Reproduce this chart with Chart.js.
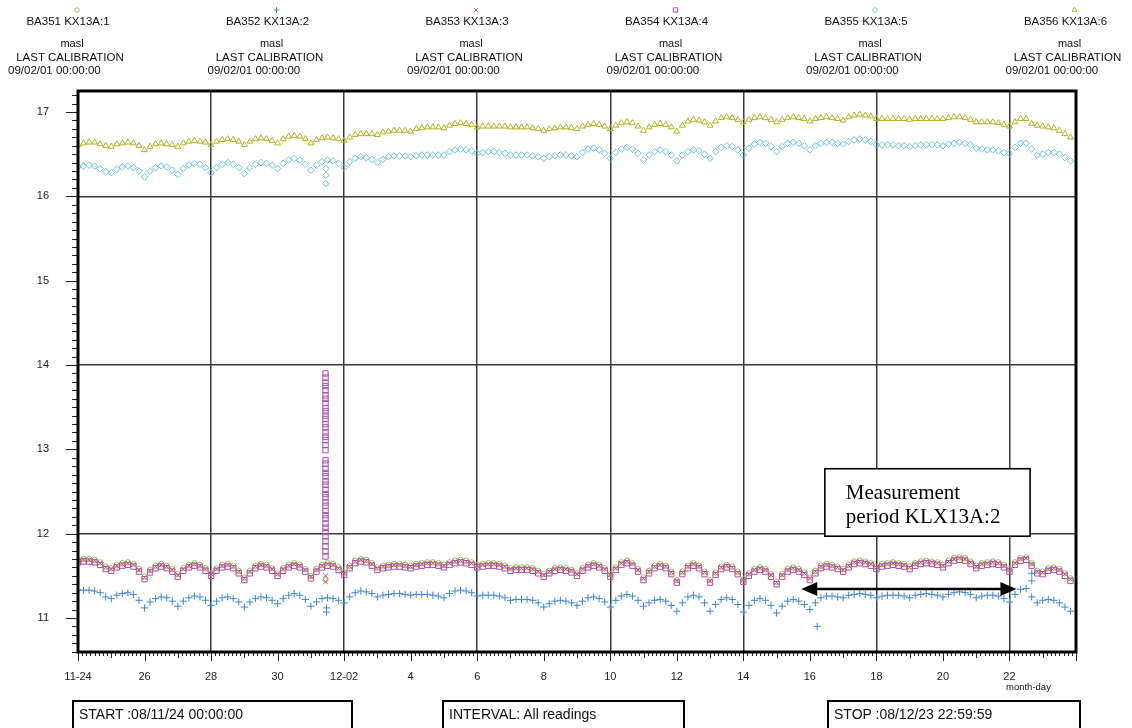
<!DOCTYPE html>
<html>
<head>
<meta charset="utf-8">
<title>KX13A levels</title>
<script src="https://cdn.jsdelivr.net/npm/chart.js@4.4.1/dist/chart.umd.min.js"></script>
<style>
  html, body { margin: 0; padding: 0; background: #fff; }
  body { position: relative; width: 1132px; height: 728px; overflow: hidden; font-family: 'Liberation Sans', Arial, sans-serif; color: #111; }
  #plot { position: absolute; left: 0; top: 0; }
  .col { position: absolute; top: 0; width: 200px; height: 80px; font-size: 11.5px; }
  .col div { position: absolute; white-space: nowrap; line-height: 12px; }
  .box { position: absolute; top: 700px; height: 31px; box-sizing: border-box; border: 2.5px solid #000; font-size: 14px; line-height: 24px; padding-left: 5px; white-space: nowrap; }
  #md { position: absolute; left: 1006px; top: 681px; font-size: 9.5px; font-family: 'Liberation Sans Narrow', 'Liberation Sans', Arial, sans-serif; }
</style>
</head>
<body>
<canvas id="plot" width="1132" height="728"></canvas>
<div id="head"></div>
<div class="box" style="left:72px;width:281px">START :08/11/24 00:00:00</div>
<div class="box" style="left:442px;width:243px">INTERVAL: All readings</div>
<div class="box" style="left:827px;width:254px">STOP :08/12/23 22:59:59</div>
<div id="md">month-day</div>
<script>
// sensors in the order of the header columns
const sensorNames = ['BA351 KX13A:1', 'BA352 KX13A:2', 'BA353 KX13A:3', 'BA354 KX13A:4', 'BA355 KX13A:5', 'BA356 KX13A:6'];
const sensorColors = ['#86cc55', '#3f86d6', '#e4484c', '#ad4fb0', '#6ac4d8', '#b3b324'];
const sensorMarks = ['circle', 'cross', 'crossRot', 'rect', 'rectRot', 'triangle'];
const unitLabel = 'masl';
const calibration = '09/02/01 00:00:00';

// readings every 4 hours from 08/11/24 00:00 (six per day), masl
const level1 = [
  11.69, 11.70, 11.70, 11.69, 11.66, 11.61,  11.59, 11.63, 11.65, 11.66, 11.64, 11.58,  11.49, 11.57, 11.62, 11.64, 11.62, 11.58,
  11.52, 11.59, 11.63, 11.65, 11.63, 11.59,  11.53, 11.59, 11.63, 11.64, 11.62, 11.56,  11.48, 11.56, 11.62, 11.64, 11.63, 11.59,
  11.53, 11.59, 11.63, 11.65, 11.63, 11.58,  11.50, 11.58, 11.63, 11.65, 11.64, 11.60,  11.54, 11.62, 11.68, 11.70, 11.69, 11.65,
  11.60, 11.62, 11.63, 11.64, 11.64, 11.63,  11.62, 11.64, 11.65, 11.66, 11.66, 11.65,  11.63, 11.66, 11.68, 11.69, 11.68, 11.66,
  11.63, 11.64, 11.65, 11.65, 11.64, 11.62,  11.59, 11.60, 11.60, 11.60, 11.59, 11.56,  11.52, 11.56, 11.59, 11.60, 11.59, 11.57,
  11.53, 11.59, 11.63, 11.65, 11.63, 11.59,  11.52, 11.60, 11.66, 11.68, 11.65, 11.58,  11.48, 11.56, 11.62, 11.64, 11.62, 11.55,
  11.45, 11.55, 11.62, 11.65, 11.62, 11.55,  11.45, 11.54, 11.61, 11.63, 11.61, 11.55,  11.46, 11.53, 11.58, 11.60, 11.58, 11.52,
  11.43, 11.52, 11.58, 11.60, 11.58, 11.54,  11.48, 11.56, 11.62, 11.64, 11.63, 11.61,  11.58, 11.63, 11.67, 11.68, 11.67, 11.65,
  11.61, 11.64, 11.65, 11.66, 11.65, 11.64,  11.61, 11.65, 11.67, 11.68, 11.67, 11.66,  11.63, 11.68, 11.71, 11.72, 11.71, 11.67,
  11.62, 11.65, 11.66, 11.67, 11.66, 11.63,  11.58, 11.66, 11.71, 11.72, 11.65, 11.56,  11.55, 11.59, 11.60, 11.58, 11.53, 11.47
];
const level2 = [
  11.33, 11.33, 11.33, 11.32, 11.30, 11.25,  11.23, 11.27, 11.29, 11.30, 11.28, 11.21,  11.12, 11.19, 11.23, 11.25, 11.24, 11.20,
  11.14, 11.20, 11.24, 11.26, 11.25, 11.21,  11.15, 11.20, 11.24, 11.25, 11.23, 11.19,  11.13, 11.19, 11.23, 11.25, 11.24, 11.21,
  11.17, 11.23, 11.27, 11.29, 11.27, 11.22,  11.14, 11.19, 11.23, 11.24, 11.23, 11.21,  11.18, 11.25, 11.30, 11.32, 11.31, 11.29,
  11.25, 11.27, 11.28, 11.29, 11.29, 11.28,  11.27, 11.28, 11.28, 11.28, 11.27, 11.26,  11.24, 11.29, 11.32, 11.33, 11.32, 11.30,
  11.26, 11.27, 11.27, 11.27, 11.26, 11.24,  11.21, 11.22, 11.22, 11.22, 11.21, 11.18,  11.13, 11.17, 11.20, 11.21, 11.20, 11.18,
  11.15, 11.20, 11.24, 11.25, 11.23, 11.19,  11.13, 11.21, 11.26, 11.28, 11.26, 11.21,  11.14, 11.18, 11.21, 11.22, 11.20, 11.15,
  11.08, 11.18, 11.25, 11.27, 11.25, 11.18,  11.08, 11.16, 11.22, 11.24, 11.22, 11.16,  11.07, 11.15, 11.21, 11.23, 11.21, 11.15,
  11.06, 11.14, 11.20, 11.22, 11.20, 11.16,  11.10, 11.18, 11.24, 11.26, 11.26, 11.25,  11.24, 11.27, 11.28, 11.29, 11.28, 11.27,
  11.24, 11.26, 11.27, 11.27, 11.27, 11.26,  11.24, 11.27, 11.28, 11.29, 11.28, 11.27,  11.25, 11.28, 11.30, 11.31, 11.30, 11.28,
  11.24, 11.26, 11.27, 11.27, 11.26, 11.23,  11.19, 11.28, 11.34, 11.35, 11.25, 11.18,  11.21, 11.22, 11.21, 11.18, 11.13, 11.08
];
const level3 = [
  11.68, 11.69, 11.69, 11.68, 11.65, 11.60,  11.58, 11.62, 11.64, 11.65, 11.63, 11.57,  11.48, 11.56, 11.61, 11.63, 11.61, 11.57,
  11.51, 11.58, 11.62, 11.64, 11.62, 11.58,  11.52, 11.58, 11.62, 11.63, 11.61, 11.55,  11.47, 11.55, 11.61, 11.63, 11.62, 11.58,
  11.52, 11.58, 11.62, 11.64, 11.62, 11.57,  11.49, 11.57, 11.62, 11.64, 11.63, 11.59,  11.53, 11.61, 11.67, 11.69, 11.68, 11.64,
  11.59, 11.61, 11.62, 11.63, 11.63, 11.62,  11.61, 11.63, 11.64, 11.65, 11.65, 11.64,  11.62, 11.65, 11.67, 11.68, 11.67, 11.65,
  11.62, 11.63, 11.64, 11.64, 11.63, 11.61,  11.58, 11.59, 11.59, 11.59, 11.58, 11.55,  11.51, 11.55, 11.58, 11.59, 11.58, 11.56,
  11.52, 11.58, 11.62, 11.64, 11.62, 11.58,  11.51, 11.59, 11.65, 11.67, 11.64, 11.57,  11.47, 11.55, 11.61, 11.63, 11.61, 11.54,
  11.44, 11.54, 11.61, 11.64, 11.61, 11.54,  11.44, 11.53, 11.60, 11.62, 11.60, 11.54,  11.45, 11.52, 11.57, 11.59, 11.57, 11.51,
  11.42, 11.51, 11.57, 11.59, 11.57, 11.53,  11.47, 11.55, 11.61, 11.63, 11.62, 11.60,  11.57, 11.62, 11.66, 11.67, 11.66, 11.64,
  11.60, 11.63, 11.64, 11.65, 11.64, 11.63,  11.60, 11.64, 11.66, 11.67, 11.66, 11.65,  11.62, 11.67, 11.70, 11.71, 11.70, 11.66,
  11.61, 11.64, 11.65, 11.66, 11.65, 11.62,  11.57, 11.65, 11.70, 11.71, 11.64, 11.55,  11.54, 11.58, 11.59, 11.57, 11.52, 11.46
];
const level4 = [
  11.66, 11.67, 11.67, 11.66, 11.63, 11.58,  11.56, 11.60, 11.62, 11.63, 11.61, 11.55,  11.46, 11.54, 11.59, 11.61, 11.59, 11.55,
  11.49, 11.56, 11.60, 11.62, 11.60, 11.56,  11.50, 11.56, 11.60, 11.61, 11.59, 11.53,  11.45, 11.53, 11.59, 11.61, 11.60, 11.56,
  11.50, 11.56, 11.60, 11.62, 11.60, 11.55,  11.47, 11.55, 11.60, 11.62, 11.61, 11.57,  11.51, 11.59, 11.65, 11.67, 11.66, 11.62,
  11.57, 11.59, 11.60, 11.61, 11.61, 11.60,  11.59, 11.61, 11.62, 11.63, 11.63, 11.62,  11.60, 11.63, 11.65, 11.66, 11.65, 11.63,
  11.60, 11.61, 11.62, 11.62, 11.61, 11.59,  11.56, 11.57, 11.57, 11.57, 11.56, 11.53,  11.49, 11.53, 11.56, 11.57, 11.56, 11.54,
  11.50, 11.56, 11.60, 11.62, 11.60, 11.56,  11.49, 11.57, 11.63, 11.65, 11.62, 11.55,  11.45, 11.53, 11.59, 11.61, 11.59, 11.52,
  11.42, 11.52, 11.59, 11.62, 11.59, 11.52,  11.42, 11.51, 11.58, 11.60, 11.58, 11.52,  11.43, 11.50, 11.55, 11.57, 11.55, 11.49,
  11.40, 11.49, 11.55, 11.57, 11.55, 11.51,  11.45, 11.53, 11.59, 11.61, 11.60, 11.58,  11.55, 11.60, 11.64, 11.65, 11.64, 11.62,
  11.58, 11.61, 11.62, 11.63, 11.62, 11.61,  11.58, 11.62, 11.64, 11.65, 11.64, 11.63,  11.60, 11.65, 11.68, 11.69, 11.68, 11.64,
  11.59, 11.62, 11.63, 11.64, 11.63, 11.60,  11.55, 11.63, 11.68, 11.69, 11.62, 11.53,  11.52, 11.56, 11.57, 11.55, 11.50, 11.44
];
const level5 = [
  16.35, 16.36, 16.37, 16.36, 16.33, 16.29,  16.28, 16.32, 16.35, 16.36, 16.34, 16.30,  16.23, 16.30, 16.34, 16.36, 16.35, 16.31,
  16.26, 16.33, 16.37, 16.39, 16.38, 16.34,  16.28, 16.34, 16.38, 16.40, 16.38, 16.34,  16.27, 16.34, 16.38, 16.40, 16.39, 16.37,
  16.33, 16.39, 16.43, 16.45, 16.43, 16.38,  16.31, 16.37, 16.41, 16.43, 16.42, 16.39,  16.34, 16.41, 16.45, 16.47, 16.46, 16.44,
  16.40, 16.44, 16.47, 16.48, 16.48, 16.48,  16.47, 16.48, 16.49, 16.49, 16.49, 16.49,  16.49, 16.53, 16.55, 16.56, 16.55, 16.54,
  16.51, 16.52, 16.53, 16.53, 16.52, 16.51,  16.49, 16.49, 16.49, 16.49, 16.48, 16.47,  16.45, 16.47, 16.48, 16.49, 16.49, 16.48,
  16.47, 16.52, 16.56, 16.57, 16.55, 16.51,  16.45, 16.52, 16.56, 16.58, 16.56, 16.51,  16.43, 16.49, 16.53, 16.55, 16.53, 16.49,
  16.42, 16.49, 16.53, 16.55, 16.54, 16.50,  16.45, 16.53, 16.58, 16.60, 16.59, 16.55,  16.49, 16.57, 16.62, 16.64, 16.63, 16.59,
  16.53, 16.59, 16.63, 16.64, 16.63, 16.60,  16.55, 16.60, 16.63, 16.64, 16.64, 16.63,  16.62, 16.65, 16.67, 16.68, 16.67, 16.65,
  16.61, 16.61, 16.61, 16.61, 16.60, 16.60,  16.59, 16.60, 16.61, 16.61, 16.61, 16.61,  16.60, 16.62, 16.63, 16.64, 16.63, 16.61,
  16.57, 16.56, 16.55, 16.55, 16.54, 16.52,  16.51, 16.58, 16.63, 16.63, 16.56, 16.49,  16.50, 16.52, 16.52, 16.50, 16.46, 16.42
];
const level6 = [
  16.61, 16.63, 16.64, 16.64, 16.62, 16.60,  16.59, 16.62, 16.63, 16.64, 16.63, 16.60,  16.55, 16.59, 16.62, 16.63, 16.62, 16.61,
  16.59, 16.63, 16.65, 16.66, 16.65, 16.64,  16.61, 16.65, 16.67, 16.68, 16.67, 16.65,  16.61, 16.65, 16.68, 16.69, 16.68, 16.66,
  16.63, 16.68, 16.71, 16.72, 16.71, 16.68,  16.63, 16.67, 16.69, 16.70, 16.69, 16.68,  16.66, 16.70, 16.73, 16.74, 16.74, 16.74,
  16.73, 16.76, 16.77, 16.78, 16.78, 16.78,  16.77, 16.80, 16.81, 16.82, 16.82, 16.82,  16.81, 16.84, 16.86, 16.87, 16.86, 16.85,
  16.82, 16.83, 16.83, 16.83, 16.83, 16.83,  16.82, 16.82, 16.82, 16.82, 16.81, 16.80,  16.78, 16.80, 16.81, 16.82, 16.82, 16.81,
  16.80, 16.83, 16.85, 16.86, 16.85, 16.83,  16.80, 16.84, 16.87, 16.88, 16.87, 16.83,  16.78, 16.82, 16.85, 16.86, 16.85, 16.82,
  16.77, 16.84, 16.89, 16.91, 16.90, 16.88,  16.84, 16.89, 16.93, 16.94, 16.93, 16.91,  16.88, 16.91, 16.93, 16.94, 16.93, 16.91,
  16.88, 16.91, 16.93, 16.94, 16.93, 16.92,  16.89, 16.92, 16.93, 16.94, 16.93, 16.92,  16.90, 16.94, 16.96, 16.97, 16.96, 16.95,
  16.92, 16.92, 16.92, 16.92, 16.92, 16.92,  16.91, 16.92, 16.92, 16.92, 16.92, 16.92,  16.92, 16.93, 16.94, 16.94, 16.93, 16.91,
  16.88, 16.88, 16.88, 16.88, 16.87, 16.85,  16.83, 16.88, 16.92, 16.92, 16.86, 16.84,  16.83, 16.82, 16.81, 16.78, 16.74, 16.70
];

// burst of BA354 readings around 12-01 10:30, and the odd stray readings [day, masl]
const spikeDay = 7.44;
const spike4 = [13.90, 13.85, 13.79, 13.75, 13.70, 13.64, 13.60, 13.55, 13.49, 13.45, 13.40, 13.36, 13.30, 13.26, 13.20,
  13.15, 13.11, 13.05, 12.99, 12.87, 12.83, 12.77, 12.72, 12.68, 12.62, 12.58, 12.52, 12.47, 12.43, 12.37, 12.33,
  12.27, 12.22, 12.18, 12.12, 12.07, 12.02, 11.97, 11.91, 11.85, 11.79, 11.73];
const stray1 = [[7.44, 11.46]];
const stray2 = [[7.47, 11.12], [7.47, 11.07], [22.22, 10.90], [28.67, 11.53], [28.67, 11.44]];
const stray3 = [[7.44, 11.50], [7.44, 11.43]];
const stray5 = [[7.45, 16.33], [7.45, 16.25], [7.45, 16.15]];

// x tick labels, every second day
const dayTicks = [0, 2, 4, 6, 8, 10, 12, 14, 16, 18, 20, 22, 24, 26, 28];
const dayLabels = ['11-24', '26', '28', '30', '12-02', '4', '6', '8', '10', '12', '14', '16', '18', '20', '22'];

// measurement period marked below the note
const periodFrom = 21.74;
const periodTo = 28.21;
const periodLevel = 11.345;
const noteBox = { x0: 22.45, x1: 28.62, y0: 12.77, y1: 11.97 };
const noteLines = ['Measurement', 'period KLX13A:2'];

const times = level4.map((_, i) => i / 6);

function series(vals, extra) {
  return vals.map((v, i) => ({ x: times[i], y: v })).concat(extra.map(([x, y]) => ({ x, y })));
}

// header columns
const head = document.getElementById('head');
const colCenters = sensorNames.map((_, i) => 68 + i * 199.5);
sensorNames.forEach((name, i) => {
  const c = document.createElement('div');
  c.className = 'col';
  c.style.left = (colCenters[i] - 100) + 'px';
  c.innerHTML =
    '<div style="top:15px;left:0;width:200px;text-align:center">' + name + '</div>' +
    '<div style="top:37px;left:4px;width:200px;text-align:center;font-size:11px">' + unitLabel + '</div>' +
    '<div style="top:51px;left:2px;width:200px;text-align:center">LAST CALIBRATION</div>' +
    '<div style="top:64px;left:40px">' + calibration + '</div>';
  head.appendChild(c);
});

const markSize = { circle: 2.7, cross: 3.6, crossRot: 3.2, rect: 3.8, rectRot: 3.3, triangle: 3.4 };

const frame = {
  id: 'frame',
  afterDraw(chart) {
    const { ctx, chartArea: a, scales: { x, y } } = chart;
    ctx.save();

    // note box and the double arrow
    const bx0 = x.getPixelForValue(noteBox.x0), bx1 = x.getPixelForValue(noteBox.x1);
    const by0 = y.getPixelForValue(noteBox.y0), by1 = y.getPixelForValue(noteBox.y1);
    ctx.fillStyle = '#fff';
    ctx.fillRect(bx0, by0, bx1 - bx0, by1 - by0);
    ctx.strokeStyle = '#000';
    ctx.lineWidth = 1.6;
    ctx.strokeRect(bx0, by0, bx1 - bx0, by1 - by0);
    ctx.fillStyle = '#000';
    ctx.font = '21px "Liberation Serif", "Times New Roman", serif';
    ctx.textBaseline = 'alphabetic';
    ctx.textAlign = 'left';
    noteLines.forEach((t, i) => ctx.fillText(t, bx0 + 21, by0 + 30 + i * 24));

    const ax0 = x.getPixelForValue(periodFrom), ax1 = x.getPixelForValue(periodTo);
    const ay = y.getPixelForValue(periodLevel);
    ctx.lineWidth = 2.5;
    ctx.beginPath();
    ctx.moveTo(ax0 + 12, ay); ctx.lineTo(ax1 - 12, ay);
    ctx.stroke();
    ctx.beginPath();
    ctx.moveTo(ax0, ay); ctx.lineTo(ax0 + 16, ay - 7); ctx.lineTo(ax0 + 16, ay + 7); ctx.closePath();
    ctx.moveTo(ax1, ay); ctx.lineTo(ax1 - 16, ay - 7); ctx.lineTo(ax1 - 16, ay + 7); ctx.closePath();
    ctx.fill();

    // minor ticks: 3 hours on x, 0.1 m on y
    ctx.lineWidth = 1;
    ctx.strokeStyle = '#222';
    ctx.beginPath();
    for (let k = 0; k <= 240; k++) {
      const px = Math.round(x.getPixelForValue(k / 8)) + 0.5;
      const len = k % 16 === 0 ? 9 : (k % 8 === 0 ? 6 : 4);
      ctx.moveTo(px, a.bottom); ctx.lineTo(px, a.bottom + len);
    }
    for (let k = 106; k <= 172; k++) {
      const py = Math.round(y.getPixelForValue(k / 10)) + 0.5;
      const len = k % 10 === 0 ? 12 : 6;
      ctx.moveTo(a.left - len, py); ctx.lineTo(a.left, py);
    }
    ctx.stroke();

    // heavy frame round the plot
    ctx.strokeStyle = '#000';
    ctx.lineWidth = 3;
    ctx.strokeRect(a.left, a.top, a.right - a.left, a.bottom - a.top);

    // header symbols, hollow like the plotted marks
    ctx.lineWidth = 1;
    sensorMarks.forEach((m, i) => {
      ctx.strokeStyle = sensorColors[i];
      ctx.fillStyle = '#fff';
      Chart.helpers.drawPoint(ctx, { pointStyle: m, radius: markSize[m] * 0.8, borderWidth: 1, rotation: 0 }, colCenters[i] + 9, 10);
    });
    ctx.restore();
  }
};

const drawOrder = [2, 5, 1, 0, 4, 3];
const extras = [stray1, stray2, stray3, spike4.map(v => [spikeDay, v]), stray5, []];
const levels = [level1, level2, level3, level4, level5, level6];

new Chart(document.getElementById('plot'), {
  type: 'scatter',
  data: {
    datasets: levels.map((vals, i) => ({
      label: sensorNames[i],
      data: series(vals, extras[i]),
      pointStyle: sensorMarks[i],
      pointRadius: markSize[sensorMarks[i]],
      borderColor: sensorColors[i],
      backgroundColor: 'rgba(0,0,0,0)',
      pointBorderWidth: 1,
      order: drawOrder[i]
    }))
  },
  options: {
    responsive: false,
    animation: false,
    devicePixelRatio: 1,
    layout: { padding: { top: 91, right: 56, left: 0, bottom: 0 } },
    plugins: { legend: { display: false }, tooltip: { enabled: false } },
    scales: {
      x: {
        type: 'linear',
        min: 0,
        max: 30,
        afterFit: s => { s.height = 76; },
        afterBuildTicks: s => { s.ticks = dayTicks.map(v => ({ value: v })); },
        border: { display: false },
        grid: {
          drawTicks: false,
          lineWidth: 1.5,
          color: c => (c.tick && c.tick.value % 4 === 0 && c.tick.value > 0) ? '#3a3a3a' : 'rgba(0,0,0,0)'
        },
        ticks: {
          autoSkip: false,
          maxRotation: 0,
          padding: 18,
          color: '#222',
          font: { family: "'Liberation Sans Narrow', 'Liberation Sans', Arial, sans-serif", size: 11 },
          callback: v => dayLabels[dayTicks.indexOf(v)]
        }
      },
      y: {
        min: 10.597,
        max: 17.249,
        afterFit: s => { s.width = 78; },
        border: { display: false },
        grid: {
          drawTicks: false,
          lineWidth: 1.5,
          color: c => (c.tick && [12, 14, 16].includes(c.tick.value)) ? '#3a3a3a' : 'rgba(0,0,0,0)'
        },
        ticks: {
          stepSize: 1,
          includeBounds: false,
          padding: 29,
          color: '#222',
          font: { family: "'Liberation Sans Narrow', 'Liberation Sans', Arial, sans-serif", size: 11 },
          callback: v => String(v)
        }
      }
    }
  },
  plugins: [frame]
});
</script>
</body>
</html>
